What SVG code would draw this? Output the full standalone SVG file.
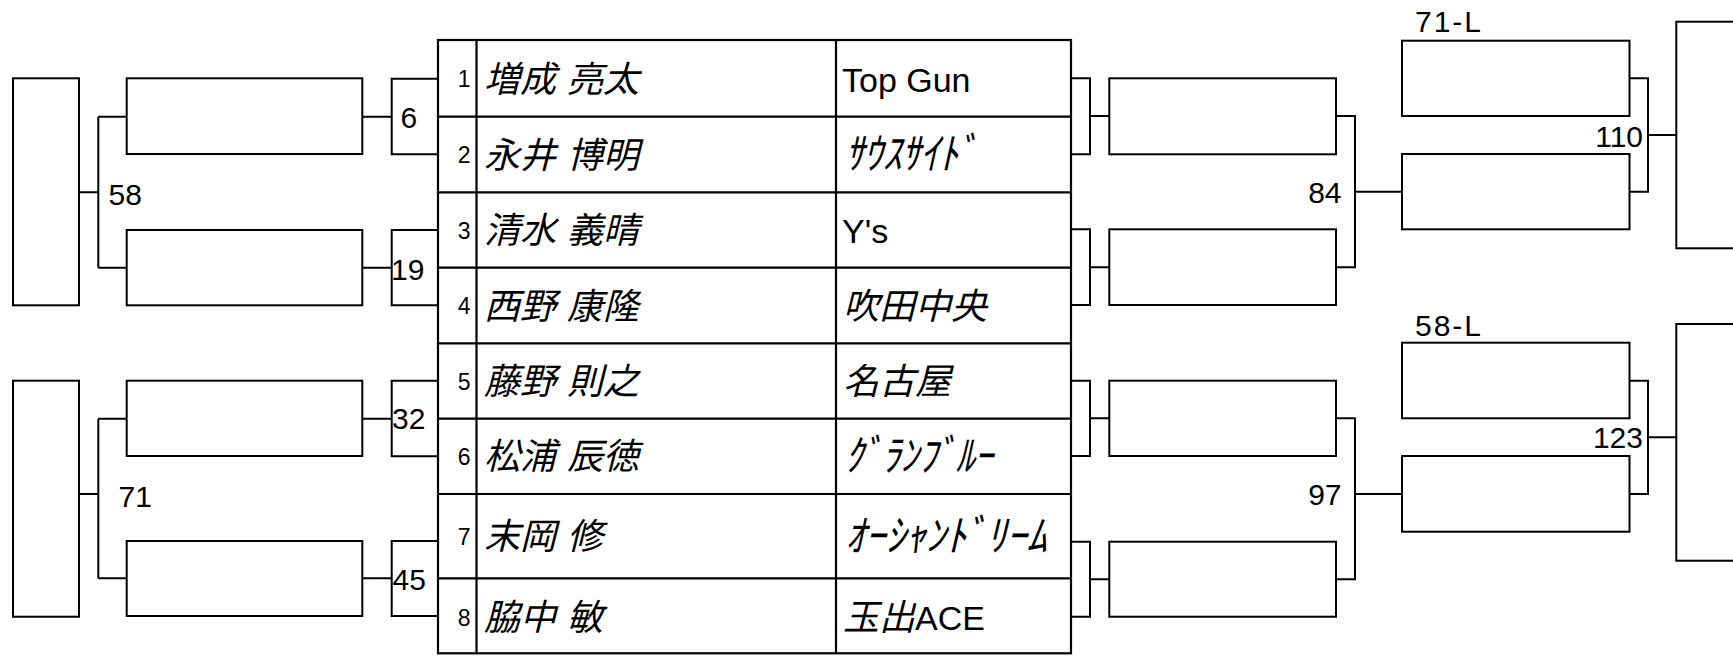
<svg xmlns="http://www.w3.org/2000/svg" width="1733" height="660" viewBox="0 0 1733 660">
<style>
.b{fill:#fff;stroke:#000;stroke-width:2}
.c{fill:none;stroke:#000;stroke-width:2}
.t{fill:none;stroke:#000;stroke-width:2.2}
.lab{font-family:"Liberation Sans",Arial,sans-serif;font-size:30px;fill:#000}
.num{font-family:"Liberation Sans",Arial,sans-serif;font-size:23px;fill:#000;text-anchor:end}
.nm{font-family:"Noto Sans CJK JP","Noto Sans CJK SC",sans-serif;font-size:36px;font-style:italic;fill:#000;word-spacing:3px}
.tm{font-family:"Liberation Sans","Noto Sans CJK JP",sans-serif;font-size:34px;fill:#000}
.jp{font-family:"Noto Sans CJK JP","Noto Sans CJK SC",sans-serif;font-size:36px;font-style:italic}
.hk{font-family:"Noto Sans CJK JP","Noto Sans CJK SC",sans-serif;font-size:43px;font-style:italic;fill:#000}
</style>
<rect width="1733" height="660" fill="#fff"/>

<g id="connectors">
<path class="c" d="M79,192.3H98.3M98.3,116.7V267.7M98.3,116.7H126.7M98.3,267.7H126.7"/>
<path class="c" d="M79,494H98.3M98.3,418.7V578.3M98.3,418.7H126.7M98.3,578.3H126.7"/>
<path class="c" d="M362.3,116.7H391.7M438,78.7H391.7V154.3H438"/>
<path class="c" d="M362.3,267.7H391.7M438,230H391.7V305.3H438"/>
<path class="c" d="M362.3,418.7H391.7M438,380.7H391.7V456.3H438"/>
<path class="c" d="M362.3,578.3H391.7M438,541H391.7V616H438"/>
<path class="c" d="M1071,78.3H1090V154.3H1071M1090,116H1109.3"/>
<path class="c" d="M1071,229.3H1090V305H1071M1090,267.3H1109.3"/>
<path class="c" d="M1071,380.7H1090V456H1071M1090,418.3H1109.3"/>
<path class="c" d="M1071,541.7H1090V616.7H1071M1090,579.3H1109.3"/>
<path class="c" d="M1336,116H1355V267.3H1336M1355,191.7H1402"/>
<path class="c" d="M1336,418.3H1355V579.3H1336M1355,494H1402"/>
<path class="c" d="M1629.5,78.3H1648V191.7H1629.5M1648,135H1676.3"/>
<path class="c" d="M1629.5,380.7H1648V494H1629.5M1648,437.3H1676.3"/>
</g>

<g id="match-labels">
<text class="lab" x="108.5" y="205">58</text>
<text class="lab" x="118.5" y="506.5">71</text>
<text class="lab" x="400.5" y="128.3">6</text>
<text class="lab" x="391" y="280">19</text>
<text class="lab" x="392" y="428.5">32</text>
<text class="lab" x="392.5" y="590">45</text>
<text class="lab" x="1341.5" y="203.3" text-anchor="end">84</text>
<text class="lab" x="1341.5" y="505" text-anchor="end">97</text>
<text class="lab" x="1643" y="146.7" text-anchor="end">110</text>
<text class="lab" x="1643" y="448.3" text-anchor="end">123</text>
<text class="lab" x="1415" y="32.3" textLength="66" lengthAdjust="spacing">71-L</text>
<text class="lab" x="1415" y="335.7" textLength="66" lengthAdjust="spacing">58-L</text>
</g>

<g id="left-final-1"><rect class="b" x="13" y="78.3" width="66" height="227"/></g>
<g id="left-final-2"><rect class="b" x="13" y="380.7" width="66" height="236"/></g>
<g id="left-box-1"><rect class="b" x="126.7" y="78.3" width="235.6" height="75.7"/></g>
<g id="left-box-2"><rect class="b" x="126.7" y="230" width="235.6" height="75.3"/></g>
<g id="left-box-3"><rect class="b" x="126.7" y="380.7" width="235.6" height="75.3"/></g>
<g id="left-box-4"><rect class="b" x="126.7" y="541" width="235.6" height="75"/></g>

<g id="right-box-1"><rect class="b" x="1109.3" y="78.3" width="226.7" height="76"/></g>
<g id="right-box-2"><rect class="b" x="1109.3" y="229.3" width="226.7" height="75.7"/></g>
<g id="right-box-3"><rect class="b" x="1109.3" y="380.7" width="226.7" height="75.3"/></g>
<g id="right-box-4"><rect class="b" x="1109.3" y="541.7" width="226.7" height="75"/></g>
<g id="right-semi-1"><rect class="b" x="1402" y="40.7" width="227.5" height="75.3"/></g>
<g id="right-semi-2"><rect class="b" x="1402" y="154" width="227.5" height="75.3"/></g>
<g id="right-semi-3"><rect class="b" x="1402" y="342.7" width="227.5" height="75.6"/></g>
<g id="right-semi-4"><rect class="b" x="1402" y="456" width="227.5" height="75.7"/></g>
<g id="right-final-1"><rect class="b" x="1676.3" y="21.7" width="80" height="226.6"/></g>
<g id="right-final-2"><rect class="b" x="1676.3" y="324" width="80" height="236.7"/></g>

<g id="table">
<rect class="t" x="438" y="40" width="633" height="613.3"/>
<path class="t" d="M476.5,40V653.3M836,40V653.3M438,116.7H1071M438,192.3H1071M438,267.7H1071M438,343.3H1071M438,418.7H1071M438,494H1071M438,578.3H1071"/>
</g>

<g id="row-1"><text class="num" x="470.5" y="87">1</text><text class="nm" x="484" y="91.5">増成 亮太</text><text class="tm" x="842" y="91.7">Top Gun</text></g>
<g id="row-2"><text class="num" x="470.5" y="163">2</text><text class="nm" x="484" y="167.5">永井 博明</text><text class="hk" x="845" y="169" textLength="132" lengthAdjust="spacingAndGlyphs">ｻｳｽｻｲﾄﾞ</text></g>
<g id="row-3"><text class="num" x="470.5" y="238.5">3</text><text class="nm" x="484" y="243">清水 義晴</text><text class="tm" x="842" y="243">Y's</text></g>
<g id="row-4"><text class="num" x="470.5" y="314">4</text><text class="nm" x="484" y="318.5">西野 康隆</text><text class="tm jp" x="843" y="318.5">吹田中央</text></g>
<g id="row-5"><text class="num" x="470.5" y="389.5">5</text><text class="nm" x="484" y="394">藤野 則之</text><text class="tm jp" x="843" y="394">名古屋</text></g>
<g id="row-6"><text class="num" x="470.5" y="464.8">6</text><text class="nm" x="484" y="469.3">松浦 辰徳</text><text class="hk" x="845" y="471" textLength="148" lengthAdjust="spacingAndGlyphs">ｸﾞﾗﾝﾌﾞﾙｰ</text></g>
<g id="row-7"><text class="num" x="470.5" y="544.5">7</text><text class="nm" x="484" y="549">末岡 修</text><text class="hk" x="845" y="551" textLength="202" lengthAdjust="spacingAndGlyphs">ｵｰｼｬﾝﾄﾞﾘｰﾑ</text></g>
<g id="row-8"><text class="num" x="470.5" y="625.5">8</text><text class="nm" x="484" y="630">脇中 敏</text><text class="tm" x="843" y="629.5"><tspan class="jp">玉出</tspan>ACE</text></g>
</svg>
